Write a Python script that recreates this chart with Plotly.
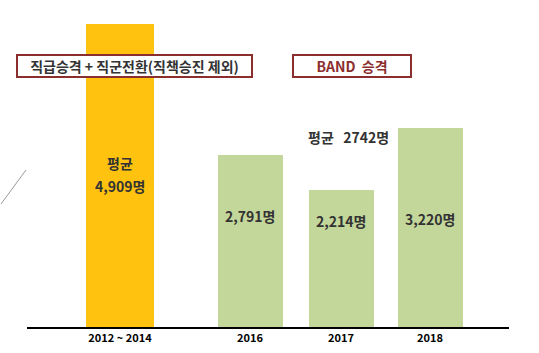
import plotly.graph_objects as go

# ---- data ----
categories = ["2012 ~ 2014", "2016", "2017", "2018"]
values = [4909, 2791, 2214, 3220]
value_labels = ["평균<br>4,909명", "2,791명", "2,214명", "3,220명"]
bar_colors = ["#FFC30F", "#C4D79B", "#C4D79B", "#C4D79B"]
avg_band = 2742

# ---- layout helpers (pixel geometry of the 539x353 canvas) ----
W, H = 539, 353
L, R, T, B = 27, 30, 0, 26
PW, PH = W - L - R, H - T - B
bar_pos = [93, 223, 314, 403]          # bar centres along the x axis (plot px units)

def px(x):
    return (x - L) / PW

def py(y):
    return (H - B - y) / PH

FONT = "Noto Sans CJK KR"
TXT = "#333333"

fig = go.Figure()
fig.add_trace(go.Bar(
    x=bar_pos, y=values, width=[68, 65, 65, 65],
    marker=dict(color=bar_colors, line=dict(width=0)),
    hoverinfo="skip", showlegend=False,
))

ann = []
# labels inside bars
label_y = [None, 216, 221, 219]
for i, (xp, lab) in enumerate(zip(bar_pos, value_labels)):
    if i == 0:
        ann.append(dict(x=xp, xref="x", y=py(163), yref="paper", text="<b>평균</b>",
                        xanchor="center", yanchor="middle",
                        showarrow=False, font=dict(family=FONT, size=14, color=TXT)))
        ann.append(dict(x=xp, xref="x", y=py(186), yref="paper", text="<b>4,909명</b>",
                        xanchor="center", yanchor="middle",
                        showarrow=False, font=dict(family=FONT, size=14, color=TXT)))
    else:
        ann.append(dict(x=xp, xref="x", y=py(label_y[i]), yref="paper", text=f"<b>{lab}</b>",
                        xanchor="center", yanchor="middle",
                        showarrow=False, font=dict(family=FONT, size=14, color=TXT)))

# boxed titles
ann.append(dict(x=px(134), y=py(66), xref="paper", yref="paper",
                xanchor="center", yanchor="middle",
                text="<b>직급승격 + 직군전환(직책승진 제외)</b>", showarrow=False,
                font=dict(family=FONT, size=14, color=TXT),
                bordercolor="#8B2E2E", borderwidth=2, borderpad=1, bgcolor="white",
                width=231, height=18))
ann.append(dict(x=px(352), y=py(66), xref="paper", yref="paper",
                xanchor="center", yanchor="middle",
                text="<b>BAND  승격</b>", showarrow=False,
                font=dict(family=FONT, size=14, color="#8B2E2E"),
                bordercolor="#8B2E2E", borderwidth=2, borderpad=1, bgcolor="white",
                width=114, height=18))
# band average
ann.append(dict(x=px(348), y=py(137), xref="paper", yref="paper",
                xanchor="center", yanchor="middle",
                text=f"<b>평균   {avg_band}명</b>", showarrow=False,
                font=dict(family=FONT, size=14, color=TXT)))

fig.update_layout(
    width=W, height=H,
    margin=dict(l=L, r=R, t=T, b=B, pad=0),
    paper_bgcolor="white", plot_bgcolor="white",
    bargap=0,
    xaxis=dict(range=[0, PW], tickvals=bar_pos,
               ticktext=[f"<b>{c}</b>" for c in categories],
               tickfont=dict(family=FONT, size=11, color="black"),
               showgrid=False, zeroline=False, ticks="",
               showline=True, linecolor="black", linewidth=2, fixedrange=True),
    yaxis=dict(range=[0, 4909 * PH / 303], visible=False, fixedrange=True),
    annotations=ann,
    shapes=[dict(type="line", xref="paper", yref="paper",
                 x0=px(1), y0=py(204), x1=px(26), y1=py(170),
                 line=dict(color="#9A9A9A", width=1))],
)

fig.write_html("out.html")
